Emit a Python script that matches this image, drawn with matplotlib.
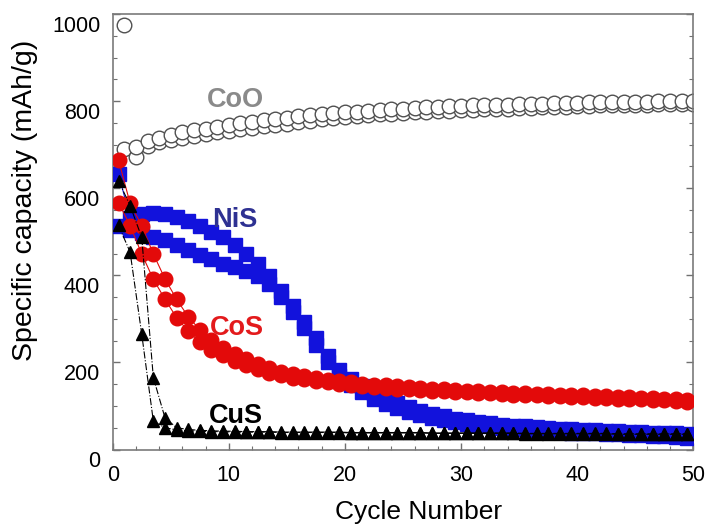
import matplotlib
matplotlib.use("Agg")
import matplotlib.pyplot as plt
import matplotlib.transforms as mtransforms
from matplotlib.ticker import MultipleLocator
import numpy as np

plt.rcParams['font.family'] = ['Liberation Sans', 'DejaVu Sans']

# ---------------- data ----------------
cycles_coo = list(range(1, 51))
cycles_sulf = [c - 0.5 for c in range(1, 51)]

coo_upper = [975, 695, 708, 716, 722, 728, 733, 737, 741, 745, 749, 752, 756, 759, 762,
             765, 768, 770, 772, 774, 776, 778, 780, 782, 783, 784, 786, 787, 788, 789,
             790, 791, 792, 792, 793, 794, 794, 795, 796, 796, 797, 797, 798, 798, 799,
             799, 800, 800, 801, 801]
coo_lower = [690, 671, 698, 705, 710, 716, 721, 725, 728, 732, 736, 739, 742, 745, 748,
             751, 755, 758, 761, 763, 766, 768, 770, 771, 773, 774, 776, 777, 778, 779,
             780, 781, 782, 783, 784, 785, 786, 787, 787, 788, 789, 790, 790, 791, 792,
             792, 793, 793, 794, 794]

cos_a = [665, 565, 514, 449, 392, 345, 305, 275, 252, 234, 220, 207, 196, 187, 179,
         173, 168, 164, 160, 157, 154, 151, 149, 147, 145, 143, 141, 140, 138, 137,
         135, 134, 133, 132, 130, 129, 128, 127, 126, 125, 124, 123, 122, 121, 120,
         119, 118, 117, 116, 114]
cos_b = [567, 514, 449, 391, 345, 303, 272, 247, 229, 216, 203, 193, 184, 176, 170,
         165, 161, 157, 154, 151, 148, 146, 144, 142, 140, 138, 137, 135, 134, 132,
         131, 130, 129, 127, 126, 125, 124, 123, 122, 121, 120, 119, 118, 117, 116,
         115, 114, 113, 112, 110]

nis_a = [633, 532, 540, 542, 540, 535, 525, 514, 500, 487, 470, 450, 426, 398, 365,
         330, 293, 255, 215, 182, 162, 145, 130, 117, 106, 97, 89, 82, 76, 71,
         67, 63, 60, 57, 55, 53, 51, 49, 48, 46, 45, 44, 43, 42, 41,
         40, 39, 38, 37, 36]
nis_b = [514, 503, 496, 488, 480, 470, 458, 447, 437, 427, 418, 409, 398, 380, 350,
         315, 278, 240, 202, 168, 148, 131, 117, 105, 95, 86, 79, 73, 68, 63,
         59, 56, 53, 50, 48, 46, 44, 42, 41, 39, 38, 37, 36, 35, 34,
         33, 31, 30, 28, 27]

cus_a = [617, 560, 487, 165, 73, 50, 46, 44, 43, 42, 42, 41, 41, 41, 40,
         40, 40, 40, 40, 40, 39, 39, 39, 39, 39, 39, 39, 38, 38, 38,
         38, 38, 38, 38, 38, 37, 37, 37, 37, 37, 37, 37, 37, 36, 36,
         36, 36, 36, 36, 36]
cus_b = [515, 453, 265, 65, 50, 45, 43, 42, 41, 41, 40, 40, 40, 40, 39,
         39, 39, 39, 39, 39, 38, 38, 38, 38, 38, 38, 38, 37, 37, 37,
         37, 37, 37, 37, 37, 36, 36, 36, 36, 36, 36, 36, 36, 35, 35,
         35, 35, 35, 35, 35]

labels = ["CoO", "NiS", "CoS", "CuS"]
label_pos = [(10.6, 786), (10.5, 510), (10.7, 263), (10.6, 61)]

xticks = [0, 10, 20, 30, 40, 50]
yticks = [0, 200, 400, 600, 800, 1000]

# ---------------- figure ----------------
W, H = 706, 525
fig = plt.figure(figsize=(W / 100, H / 100), dpi=100)
ax = fig.add_axes([112.7 / W, 1 - 449.5 / H, (693.3 - 112.7) / W, (449.5 - 14) / H])

RED = '#e30a0a'
BLUE = '#1212dc'
GRAY_EDGE = '#505050'

# CoO (open circles)
ax.plot(cycles_coo, coo_lower, linestyle='none', marker='o', ms=10.5, mfc='white',
        mec=GRAY_EDGE, mew=1.0, zorder=2)
ax.plot(cycles_coo, coo_upper, linestyle='none', marker='o', ms=10.5, mfc='white',
        mec=GRAY_EDGE, mew=1.0, zorder=2)

# NiS (blue squares)
for ser in (nis_b, nis_a):
    ax.plot(cycles_sulf, ser, color=BLUE, lw=0.8, marker='s', ms=9.5,
            mfc=BLUE, mec=BLUE, zorder=3)

# CoS (red circles)
for ser in (cos_b, cos_a):
    ax.plot(cycles_sulf, ser, color=RED, lw=0.8, marker='o', ms=10.5,
            mfc=RED, mec=RED, zorder=4)

# CuS (black triangles, dash-dot)
for ser in (cus_b, cus_a):
    ax.plot(cycles_sulf, ser, color='black', lw=0.8, linestyle='-.', marker='^',
            ms=8.5, mfc='black', mec='black', zorder=5)

label_colors = ['#8a8a8a', '#2e3192', '#e31a1c', 'black']
for txt, (lx, ly), col in zip(labels, label_pos, label_colors):
    ax.text(lx, ly, txt, color=col, fontsize=19.5, fontweight='bold',
            ha='center', va='baseline', zorder=6)

ax.set_xlim(0, 50)
ax.set_ylim(0, 1000)
ax.set_xticks(xticks)
ax.set_yticks(yticks)
ax.xaxis.set_minor_locator(MultipleLocator(2))
ax.yaxis.set_minor_locator(MultipleLocator(50))

ax.tick_params(which='both', direction='in', top=False, right=True, color='#707070',
               labelsize=15.5, labelcolor='black')
ax.tick_params(which='major', length=5, width=1)
ax.tick_params(which='minor', length=3, width=0.8)
ax.tick_params(axis='y', pad=9)
ax.tick_params(axis='x', pad=11)

for sp in ax.spines.values():
    sp.set_color('#7a7a7a')
    sp.set_linewidth(1.2)

fig.text(25 / W, 1 - 200 / H, "Specific capacity (mAh/g)", rotation=90,
         ha='center', va='center', fontsize=20.5)
fig.text(419 / W, 1 - 518.5 / H, "Cycle Number", ha='center', va='baseline',
         fontsize=19)

fig.canvas.draw()
offset = mtransforms.ScaledTranslation(0, -9.5 / 100, fig.dpi_scale_trans)
for lab in ax.get_yticklabels():
    lab.set_transform(lab.get_transform() + offset)

fig.savefig("out.png", dpi=100)
